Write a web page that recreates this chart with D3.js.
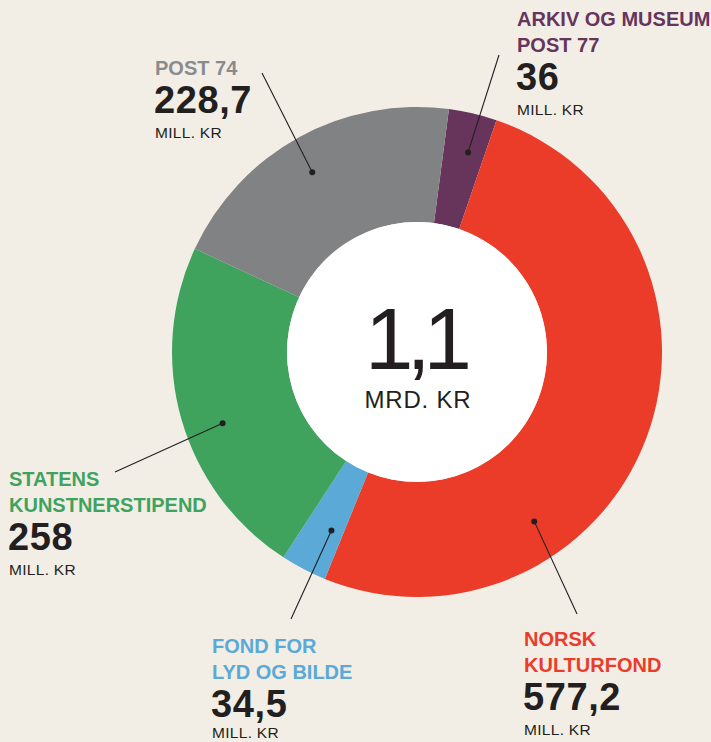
<!DOCTYPE html>
<html>
<head>
<meta charset="utf-8">
<script src="https://cdn.jsdelivr.net/npm/d3@7"></script>
<style>
  html, body { margin: 0; padding: 0; background: #f2eee6; }
  svg { display: block; }
  text { font-family: "Liberation Sans", Arial, Helvetica, sans-serif; }
</style>
</head>
<body>
<svg id="chart" width="711" height="742"></svg>
<script>
// ---- data ----
const categories = ["ARKIV OG MUSEUM POST 77", "NORSK KULTURFOND", "FOND FOR LYD OG BILDE", "STATENS KUNSTNERSTIPEND", "POST 74"];
const labelLines = [["ARKIV OG MUSEUM", "POST 77"], ["NORSK", "KULTURFOND"], ["FOND FOR", "LYD OG BILDE"], ["STATENS", "KUNSTNERSTIPEND"], ["POST 74"]];
const values = [36, 577.2, 34.5, 258, 228.7];
const valueLabels = ["36", "577,2", "34,5", "258", "228,7"];
const unitLabel = "MILL. KR";
const totalLabel = "1,1";
const totalUnit = "MRD. KR";

// ---- styling / layout ----
const colors = ["#67345c", "#eb3c2a", "#5aa9d6", "#3fa35e", "#818284"];
const labelColors = ["#67345c", "#eb3c2a", "#5aa9d6", "#3fa35e", "#8a8b8d"];
const cx = 417, cy = 352, rOuter = 245, rInner = 130;
const startDeg = 7.5;
// label anchors (x, first baseline) and leader-line outer ends
const labelPos = [[517, 26], [524, 646], [212, 653], [9, 486], [155, 75]];
const lineEnds = [[499, 55], [577, 614], [291, 619], [115, 472], [262, 73]];
const dotFrac = [0.6, 0.69, 0.32, 0.45, 0.48];
const dotR = [206, 206, 198, 207, 208];

const svg = d3.select("#chart");
const g = svg.append("g").attr("transform", `translate(${cx},${cy})`);

const pie = d3.pie().sort(null).value(d => d)
  .startAngle(startDeg * Math.PI / 180)
  .endAngle(startDeg * Math.PI / 180 + 2 * Math.PI);
const arcs = pie(values);
const arc = d3.arc().innerRadius(rInner).outerRadius(rOuter);

g.selectAll("path.slice").data(arcs).enter().append("path")
  .attr("class", "slice")
  .attr("d", arc)
  .attr("fill", (d, i) => colors[i]);

g.append("circle").attr("r", rInner).attr("fill", "#ffffff");

g.append("text").attr("x", -2).attr("y", 369 - cy)
  .attr("text-anchor", "middle").attr("font-size", 87).attr("letter-spacing", -7).attr("fill", "#231f20")
  .text(totalLabel);
g.append("text").attr("x", 1).attr("y", 408 - cy)
  .attr("text-anchor", "middle").attr("font-size", 24).attr("letter-spacing", 0.8).attr("fill", "#231f20")
  .text(totalUnit);

// leader lines + dots
arcs.forEach((d, i) => {
  const a = d.startAngle + dotFrac[i] * (d.endAngle - d.startAngle);
  const px = cx + dotR[i] * Math.sin(a);
  const py = cy - dotR[i] * Math.cos(a);
  svg.append("line")
    .attr("x1", px).attr("y1", py)
    .attr("x2", lineEnds[i][0]).attr("y2", lineEnds[i][1])
    .attr("stroke", "#231f20").attr("stroke-width", 1.1);
  svg.append("circle").attr("cx", px).attr("cy", py).attr("r", 3).attr("fill", "#231f20");
});

// labels
labelLines.forEach((lines, i) => {
  const [x, y0] = labelPos[i];
  const lg = svg.append("g");
  lines.forEach((ln, k) => {
    lg.append("text").attr("x", x).attr("y", y0 + k * 26)
      .attr("font-size", 20).attr("font-weight", "bold").attr("fill", labelColors[i])
      .text(ln);
  });
  const lastY = y0 + (lines.length - 1) * 26;
  lg.append("text").attr("x", x - 1).attr("y", lastY + 38)
    .attr("font-size", 38).attr("font-weight", "bold").attr("letter-spacing", 0.6).attr("fill", "#231f20")
    .text(valueLabels[i]);
  lg.append("text").attr("x", x).attr("y", Math.min(lastY + 63, 738))
    .attr("font-size", 15.5).attr("fill", "#231f20").attr("letter-spacing", 0.3)
    .text(unitLabel);
});
</script>
</body>
</html>
